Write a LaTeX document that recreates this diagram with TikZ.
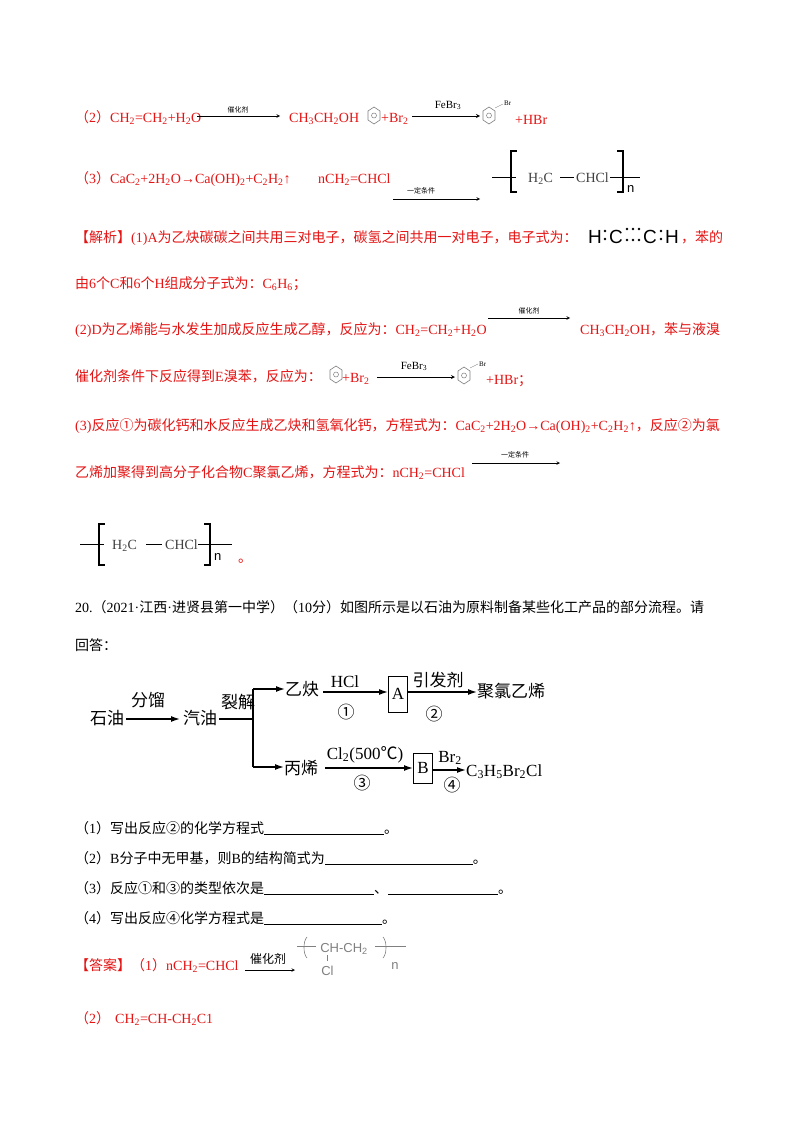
\documentclass[tikz,border=0pt]{standalone}
\usepackage{fontspec}
\setmainfont{Liberation Serif}
\setsansfont{Liberation Sans}
\newfontfamily\cjk{Noto Sans CJK SC}
\XeTeXinterchartokenstate=1
\newXeTeXintercharclass\cjkcls
\count255="3000 \loop\XeTeXcharclass\count255=\cjkcls\advance\count255 by 1\ifnum\count255<"A000\repeat
\count255="FF00 \loop\XeTeXcharclass\count255=\cjkcls\advance\count255 by 1\ifnum\count255<"FFF0\repeat
\count255="2460 \loop\XeTeXcharclass\count255=\cjkcls\advance\count255 by 1\ifnum\count255<"2500\repeat
\XeTeXcharclass"2103=\cjkcls
\XeTeXinterchartoks 0 \cjkcls = {\cjk}
\XeTeXinterchartoks 4095 \cjkcls = {\cjk}
\XeTeXinterchartoks \cjkcls 0 = {\rmfamily}
\newcommand\s[1]{\textsubscript{#1}}
\definecolor{ansred}{RGB}{228,20,20}
\begin{document}
\begin{tikzpicture}[x=1pt,y=-1pt,
 txt/.style={anchor=base west,inner sep=0pt,font=\fontsize{14}{16}\selectfont},
 rtxt/.style={txt,text=ansred},
 tiny/.style={anchor=base,inner sep=0pt,font=\fontsize{7}{8}\selectfont},
 flow/.style={anchor=base west,inner sep=0pt,font=\fontsize{17}{19}\selectfont},
 flowlab/.style={anchor=base,inner sep=0pt,font=\fontsize{17}{19}\selectfont},
 ef/.style={anchor=base west,inner sep=0pt,font=\sffamily\fontsize{19}{20}\selectfont},
 arr/.style={-stealth,line width=0.6pt},
 farr/.style={-{Latex[length=9pt,width=6pt]},line width=1.4pt},
 brk/.style={line width=2pt},
 ]
\usetikzlibrary{arrows.meta}
\useasboundingbox (0,0) rectangle (800,1132);
\fill[white] (0,0) rectangle (800,1132);
\newcommand\benz[2]{\draw[gray,line width=0.6pt] (#1,#2)+(0,-10) -- +(6,-6) -- +(6,3) -- +(0,7) -- +(-6,3) -- +(-6,-6) -- cycle; \draw[gray,line width=0.5pt] (#1,#2)+(0,-1.5) circle (2.5);}
% line 1
\node[rtxt] (l1a) at (75,122) {（2）CH\s2=CH\s2+H\s2O};
\coordinate (a1s) at (197,116); \coordinate (a1e) at (280,116);
\draw[arr] (a1s) -- (a1e);
\node[tiny] (a1l) at (238,112) {催化剂};
\node[rtxt] (l1b) at (289,122) {CH\s3CH\s2OH};
\benz{374}{117}
\node[rtxt] (l1c) at (381,122) {+Br\s2};
\coordinate (a2s) at (412,116); \coordinate (a2e) at (480,116);
\draw[arr,line width=0.8pt] (a2s) -- (a2e);
\node[anchor=base,inner sep=0pt,font=\fontsize{11}{12}\selectfont] (a2l) at (448,108) {FeBr\s3};
\benz{489}{117}
\draw[gray] (495,108) -- (503,104);
\node[tiny,anchor=base west] (br1) at (504,105) {Br};
\node[rtxt] (l1d) at (515,124) {+HBr};
% line 2
\node[rtxt] (l2a) at (75,183) {（3）CaC\s2+2H\s2O→Ca(OH)\s2+C\s2H\s2↑};
\node[rtxt] (l2b) at (318,183) {nCH\s2=CHCl};
\coordinate (a3s) at (393,199); \coordinate (a3e) at (480,199);
\draw[arr] (a3s) -- (a3e);
\node[tiny] (a3l) at (421,193) {一定条件};
\draw (492,177) -- (516,177);
\draw[brk] (511,150) -- (511,193); \draw[line width=1.2pt] (510,151) -- (517,151) (510,192) -- (517,192);
\node[txt,text=black!75] (p1) at (528,182) {H\s2C};
\draw (560,177) -- (574,177);
\node[txt,text=black!75] (p2) at (576,182) {CHCl};
\draw[brk] (623,150) -- (623,193); \draw[line width=1.2pt] (617,151) -- (624,151) (617,192) -- (624,192);
\draw (610,177) -- (640,177);
\node[txt,font=\sffamily\fontsize{13}{14}\selectfont] (pn) at (627,192) {n};
% analysis
\node[rtxt] (an1) at (75,242) {【解析】(1)A为乙炔碳碳之间共用三对电子，碳氢之间共用一对电子，电子式为：};
\node[ef] (e1) at (588,243) {H};
\node[ef] (e2) at (609,243) {C};
\node[ef] (e3) at (643,243) {C};
\node[ef] (e4) at (665,243) {H};
\foreach \xx in {605,661} {\fill (\xx,231)circle(1.3); \fill (\xx,239)circle(1.3);}
\foreach \xx in {627,633,639} {\fill (\xx,229)circle(1.3); \fill (\xx,240)circle(1.3);}
\node[rtxt] (an1b) at (681,242) {，苯的};
\node[rtxt] (an2) at (75,288) {由6个C和6个H组成分子式为：C\s6H\s6；};
\node[rtxt] (an3) at (75,334) {(2)D为乙烯能与水发生加成反应生成乙醇，反应为：CH\s2=CH\s2+H\s2O};
\coordinate (a4s) at (488,318); \coordinate (a4e) at (570,318);
\draw[arr] (a4s) -- (a4e);
\node[tiny] (a4l) at (529,313) {催化剂};
\node[rtxt] (an3b) at (580,334) {CH\s3CH\s2OH，苯与液溴};
\node[rtxt] (an4) at (75,381) {催化剂条件下反应得到E溴苯，反应为：};
\benz{336}{376}
\node[rtxt] (an4b) at (342,382) {+Br\s2};
\coordinate (a5s) at (377,377); \coordinate (a5e) at (455,377);
\draw[arr,line width=0.8pt] (a5s) -- (a5e);
\node[anchor=base,inner sep=0pt,font=\fontsize{11}{12}\selectfont] (a5l) at (414,369) {FeBr\s3};
\benz{464}{377}
\draw[gray] (470,368) -- (478,364);
\node[tiny,anchor=base west] (br2) at (479,366) {Br};
\node[rtxt] (an4c) at (486,384) {+HBr；};
\node[rtxt] (an5) at (75,430) {(3)反应①为碳化钙和水反应生成乙炔和氢氧化钙，方程式为：CaC\s2+2H\s2O→Ca(OH)\s2+C\s2H\s2↑，反应②为氯};
\node[rtxt] (an6) at (75,477) {乙烯加聚得到高分子化合物C聚氯乙烯，方程式为：nCH\s2=CHCl};
\coordinate (a6s) at (472,463); \coordinate (a6e) at (560,463);
\draw[arr] (a6s) -- (a6e);
\node[tiny] (a6l) at (515,457) {一定条件};
% polymer 2
\draw (80,544) -- (104,544);
\draw[brk] (99,523) -- (99,566); \draw[line width=1.2pt] (98,524) -- (105,524) (98,565) -- (105,565);
\node[txt,text=black!75] (q1) at (112,549) {H\s2C};
\draw (146,544) -- (162,544);
\node[txt,text=black!75] (q2) at (165,549) {CHCl};
\draw[brk] (210,523) -- (210,566); \draw[line width=1.2pt] (204,524) -- (211,524) (204,565) -- (211,565);
\draw (198,544) -- (232,544);
\node[txt,font=\sffamily\fontsize{13}{14}\selectfont] (qn) at (214,560) {n};
\node[rtxt] (dot) at (238,562) {。};
% question 20
\node[txt] (q20) at (75,612) {20.（2021·江西·进贤县第一中学）（10分）如图所示是以石油为原料制备某些化工产品的部分流程。请};
\node[txt] (q20b) at (75,650) {回答：};
% flowchart
\node[flow] (sy) at (90,724) {石油};
\node[flow] (qy) at (183,724) {汽油};
\node[flowlab] (fl) at (148,706) {分馏};
\draw[farr] (sy.base east)++(2,-5) coordinate (f1) -- (180,719) coordinate (f1e);
\node[flowlab] (lj) at (238,708) {裂解};
\coordinate (jn) at (253,719);
\coordinate (jt) at (253,689); \coordinate (jb) at (253,767);
\draw[line width=1.2pt] (qy.base east)++(2,-5) -- (jn);
\draw[line width=1.2pt] (jt) -- (jb);
\node[flow] (yq) at (285,695) {乙炔};
\node[flow] (bx) at (284,774) {丙烯};
\draw[farr] (jt) -- (yq.base west|-jt);
\draw[farr] (jb) -- (bx.base west|-jb);
\node[draw,line width=1pt,inner sep=2pt,minimum height=36pt,minimum width=19pt,font=\fontsize{17}{19}\selectfont] (A) at (398,694) {A};
\draw[farr] (323,692) -- (A.west|-0,692);
\node[flowlab] (hcl) at (345,687) {HCl};
\node[flowlab] (c1) at (346,718) {①};
\node[flow] (pvc) at (477,697) {聚氯乙烯};
\draw[farr] (A.east|-0,692) -- (pvc.base west|-0,692);
\node[flowlab] (yfj) at (438,686) {引发剂};
\node[flowlab] (c2) at (434,720) {②};
\node[draw,line width=1pt,inner sep=2pt,minimum height=30pt,minimum width=19pt,font=\fontsize{17}{19}\selectfont] (B) at (423,768) {B};
\draw[farr] (325,768) -- (B.west|-0,768);
\node[flowlab] (cl2) at (365,759) {Cl\s2(500℃)};
\node[flowlab] (c3) at (362,789) {③};
\node[flow] (prod) at (466,776) {C\s3H\s5Br\s2Cl};
\draw[farr] (B.east|-0,770) -- (prod.base west|-0,770);
\node[flowlab] (br2l) at (450,762) {Br\s2};
\node[flowlab] (c4) at (452,791) {④};
% questions
\node[txt] (w1) at (75,833) {（1）写出反应②的化学方程式\underline{\hspace{120pt}}。};
\node[txt] (w2) at (75,863) {（2）B分子中无甲基，则B的结构简式为\underline{\hspace{148pt}}。};
\node[txt] (w3) at (75,893) {（3）反应①和③的类型依次是\underline{\hspace{110pt}}、\underline{\hspace{110pt}}。};
\node[txt] (w4) at (75,923) {（4）写出反应④化学方程式是\underline{\hspace{118pt}}。};
% answer
\node[rtxt] (ans1) at (75,970) {【答案】（1）nCH\s2=CHCl};
\coordinate (a7s) at (245,970); \coordinate (a7e) at (295,970);
\draw[arr] (a7s) -- (a7e);
\node[anchor=base,inner sep=0pt,font=\fontsize{12}{13}\selectfont] (a7l) at (268,963) {催化剂};
\begin{scope}[gray,line width=0.6pt]
\draw (297,946) -- (316,946);
\draw (307,937) .. controls (303,941) and (303,954) .. (307,958);
\node[anchor=base west,inner sep=0pt,font=\sffamily\fontsize{13}{14}\selectfont,text=gray] (r1) at (320,952) {CH-CH\s2};
\node[anchor=base west,inner sep=0pt,font=\sffamily\fontsize{13}{14}\selectfont,text=gray] (r2) at (321,975) {Cl};
\draw (327,955) -- (327,961);
\draw (383,937) .. controls (387,941) and (387,954) .. (383,958);
\draw (375,946) -- (406,946);
\node[anchor=base west,inner sep=0pt,font=\sffamily\fontsize{13}{14}\selectfont,text=gray] (r3) at (391,969) {n};
\end{scope}
\node[rtxt] (ans2) at (75,1023) {（2）};
\node[rtxt,font=\rmfamily\fontsize{14}{16}\selectfont] (ans2b) at (115,1023) {CH\s2=CH-CH\s2C1};
\end{tikzpicture}
\end{document}
